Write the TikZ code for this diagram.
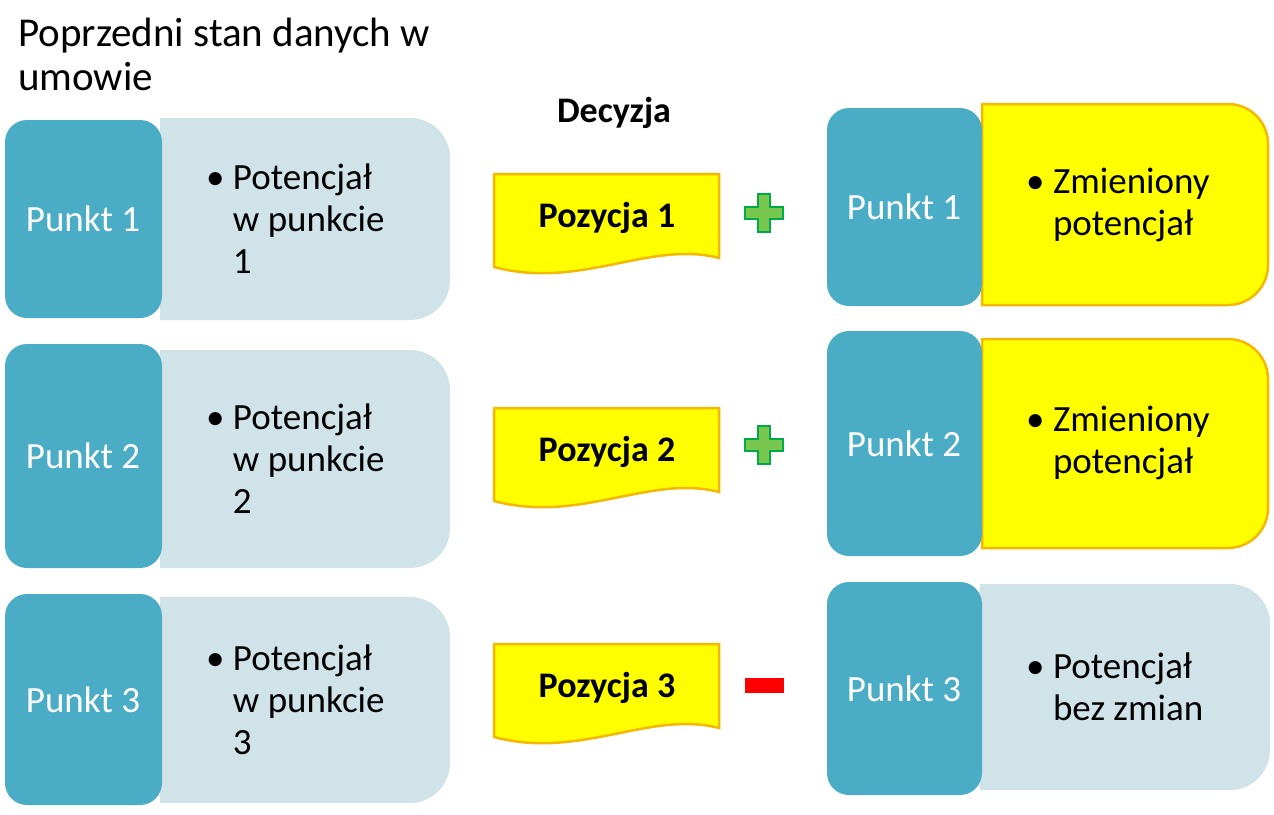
\documentclass[tikz,border=0pt]{standalone}
\usepackage{fontspec}
\setmainfont{Carlito}
\begin{document}
\begin{tikzpicture}[x=1pt,y=-1pt,
  dark/.style={fill={rgb,255:red,75;green,172;blue,198}, draw=none, rounded corners=22pt},
  lbl/.style={text=white, font=\fontsize{37}{44}\selectfont},
  btxt/.style={font=\fontsize{37}{42}\selectfont, align=left, anchor=west, inner sep=0},
  doc/.style={fill={rgb,255:red,255;green,255;blue,0}, draw={rgb,255:red,245;green,184;blue,0}, line width=2.5pt},
  light/.style={fill={rgb,255:red,208;green,227;blue,232}},
  ylw/.style={fill={rgb,255:red,255;green,255;blue,0}, draw={rgb,255:red,245;green,184;blue,0}, line width=2.5pt}]
\useasboundingbox (0,0) rectangle (1274,814);
\fill[white] (0,0) rectangle (1274,814);
\node[anchor=north west, align=left, font=\fontsize{41}{44}\selectfont, inner sep=0] (title) at (18,18) {Poprzedni stan danych w\\umowie};
\node[font=\bfseries\fontsize{36}{40}\selectfont] (dec) at (614,113) {Decyzja};
% left column
\foreach \i/\ya/\yb/\la/\lb in {1/120/318/118/320, 2/344/568/350/568, 3/594/805/597/803}{
  \fill[light] (160,\la) -- (410,\la) arc[start angle=-90,end angle=0,radius=40] -- (450,\lb-40) arc[start angle=0,end angle=90,radius=40] -- (160,\lb) -- cycle;
  \fill[dark] (5,\ya) rectangle (162,\yb);
  \node[lbl] (L\i) at (83,{(\ya+\yb)/2}) {Punkt \i};
  \node[btxt] (T\i) at (206,{(\la+\lb)/2}) {\textbullet\ Potencjał\\\phantom{\textbullet\ }w punkcie\\\phantom{\textbullet\ }\i};
}
% documents
\foreach \i/\y in {1/174, 2/408, 3/644}{
  \draw[doc] (494,\y) -- (719,\y) -- (719,\y+84) .. controls (650,\y+66) and (580,\y+116) .. (494,\y+93) -- cycle;
  \node[font=\bfseries\fontsize{36}{40}\selectfont] (P\i) at (607,\y+44) {Pozycja \i};
}
% signs
\foreach \n/\y in {a/213, b/445}{
  \draw[fill={rgb,255:red,120;green,200;blue,80}, draw={rgb,255:red,0;green,170;blue,70}, line width=2.5pt]
   (758,\y-19) -- (770,\y-19) -- (770,\y-6) -- (783,\y-6) -- (783,\y+6) -- (770,\y+6) -- (770,\y+19) -- (758,\y+19) -- (758,\y+6) -- (745,\y+6) -- (745,\y-6) -- (758,\y-6) -- cycle;
  \coordinate (plus\n) at (764,\y);
}
\fill[red] (745,678) rectangle (784,693);
\coordinate (minus) at (764,685);
% right column
\draw[ylw] (982,104) -- (1228,104) arc[start angle=-90,end angle=0,radius=40] -- (1268,265) arc[start angle=0,end angle=90,radius=40] -- (982,305) -- cycle;
\draw[ylw] (982,339) -- (1228,339) arc[start angle=-90,end angle=0,radius=40] -- (1268,508) arc[start angle=0,end angle=90,radius=40] -- (982,548) -- cycle;
\fill[light] (980,584) -- (1230,584) arc[start angle=-90,end angle=0,radius=40] -- (1270,750) arc[start angle=0,end angle=90,radius=40] -- (980,790) -- cycle;
\foreach \i/\ya/\yb in {1/108/306, 2/331/556, 3/582/795}{
  \fill[dark] (827,\ya) rectangle (982,\yb);
  \node[lbl] (R\i) at (904,{(\ya+\yb)/2}) {Punkt \i};
}
\node[btxt] (RT1) at (1026,205) {\textbullet\ Zmieniony\\\phantom{\textbullet\ }potencjał};
\node[btxt] (RT2) at (1026,443) {\textbullet\ Zmieniony\\\phantom{\textbullet\ }potencjał};
\node[btxt] (RT3) at (1026,687) {\textbullet\ Potencjał\\\phantom{\textbullet\ }bez zmian};
\end{tikzpicture}
\end{document}
